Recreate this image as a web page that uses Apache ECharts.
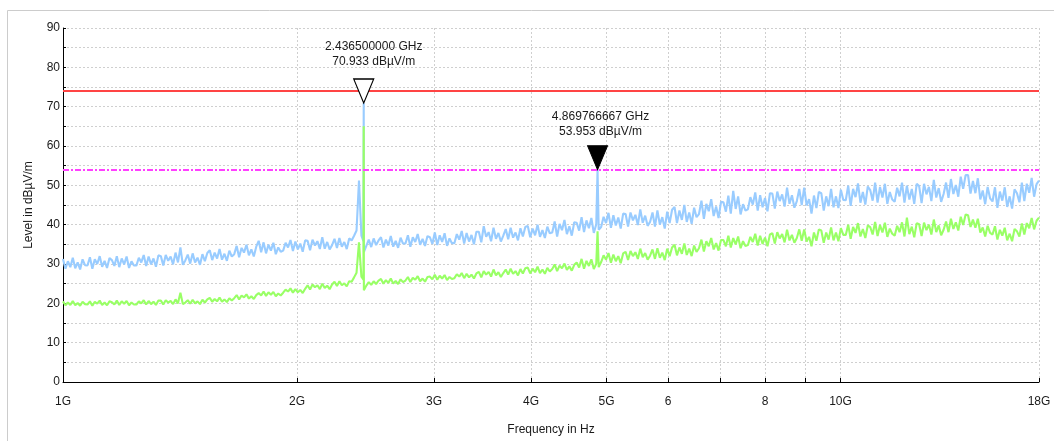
<!DOCTYPE html>
<html>
<head>
<meta charset="utf-8">
<title>Radiated emission scan 1–18 GHz</title>
<script src="https://cdn.jsdelivr.net/npm/echarts@6/dist/echarts.min.js"></script>
<style>
  html, body { margin: 0; padding: 0; background: #ffffff; }
  #chart { width: 1054px; height: 441px; }
</style>
</head>
<body>
<div id="chart"></div>
<script>
// Sweep: 400 log-spaced points from 1 GHz to 18 GHz
const sweepStartGHz = 1;
const sweepStopGHz = 18;

// Peak detector trace (dBµV/m), one value per sweep point
const peakLevel = [
  31.3, 28.8, 30.7, 29.2, 31.6, 28.9, 30.4, 28.6, 31.2, 29.7,
  29.6, 31.7, 28.8, 31.2, 30.0, 32.0, 29.3, 30.8, 29.0, 31.5,
  31.0, 29.5, 32.0, 29.2, 31.4, 29.9, 31.9, 29.0, 30.7, 29.6,
  29.6, 31.6, 30.4, 32.3, 29.5, 31.9, 29.9, 31.4, 29.3, 32.2,
  32.0, 29.6, 32.3, 30.8, 31.9, 29.9, 32.9, 30.4, 34.2, 29.8,
  30.9, 32.4, 30.1, 32.7, 30.4, 31.6, 29.8, 32.5, 30.7, 32.8,
  33.5, 31.0, 32.9, 31.4, 33.8, 31.1, 32.6, 30.8, 33.4, 31.9,
  32.5, 34.6, 31.7, 34.1, 32.9, 34.9, 32.2, 33.7, 31.9, 34.4,
  35.9, 33.0, 35.5, 32.7, 34.9, 33.4, 35.4, 32.5, 34.2, 33.1,
  33.4, 35.4, 34.2, 36.1, 33.3, 35.7, 33.7, 35.2, 33.1, 36.0,
  35.9, 33.5, 36.2, 34.7, 35.8, 33.8, 36.8, 33.9, 35.6, 33.7,
  34.8, 36.4, 34.1, 36.6, 34.4, 35.6, 33.8, 36.5, 36.0, 37.2,
  38.5, 51.2, 37.2, 33.0, 34.6, 36.2, 34.3, 36.5, 34.8, 36.0,
  36.8, 34.2, 36.2, 34.7, 37.1, 34.4, 35.9, 34.1, 36.7, 35.2,
  35.2, 37.3, 34.4, 36.8, 35.6, 37.6, 34.9, 36.4, 34.6, 37.1,
  36.8, 35.1, 38.0, 34.8, 37.3, 35.6, 37.8, 34.6, 36.5, 35.3,
  35.3, 37.6, 36.2, 38.4, 35.2, 37.9, 35.7, 37.4, 35.0, 38.2,
  38.2, 35.5, 39.6, 36.9, 38.1, 35.8, 39.2, 36.4, 37.9, 35.7,
  37.2, 38.9, 36.3, 39.2, 36.7, 38.0, 36.0, 39.1, 37.0, 39.4,
  39.7, 36.8, 39.0, 37.3, 40.0, 36.9, 38.6, 36.6, 39.5, 37.8,
  38.0, 40.8, 37.0, 40.2, 38.6, 41.2, 37.6, 39.6, 37.2, 40.6,
  40.5, 38.5, 41.9, 38.1, 41.1, 39.1, 41.7, 37.9, 40.1, 38.7,
  39.4, 42.0, 40.4, 43.0, 39.2, 42.4, 39.8, 41.8, 39.0, 42.8,
  42.7, 39.5, 43.1, 41.1, 42.5, 39.9, 43.9, 40.5, 42.3, 39.7,
  40.7, 43.1, 39.5, 43.6, 40.0, 41.9, 39.0, 43.3, 40.4, 43.8,
  44.5, 40.4, 43.6, 41.2, 45.0, 40.7, 43.1, 40.2, 44.3, 41.9,
  42.7, 46.1, 41.5, 45.3, 43.4, 46.5, 42.2, 44.6, 41.7, 45.8,
  45.7, 43.3, 47.4, 42.8, 48.6, 44.0, 47.2, 42.6, 45.2, 43.6,
  43.9, 47.0, 45.1, 48.2, 43.6, 47.5, 44.4, 46.8, 43.4, 48.0,
  47.9, 44.1, 48.4, 46.0, 47.7, 44.6, 49.4, 45.3, 47.5, 44.3,
  46.0, 49.1, 45.0, 49.4, 44.9, 46.5, 42.8, 47.4, 44.2, 48.3,
  48.0, 43.6, 47.2, 44.7, 49.1, 44.4, 47.2, 44.2, 48.9, 46.3,
  46.2, 49.9, 44.8, 49.1, 47.0, 50.5, 45.6, 48.3, 45.1, 49.7,
  48.8, 46.1, 50.7, 45.6, 49.6, 46.9, 50.4, 45.3, 48.3, 46.4,
  45.8, 49.4, 47.2, 50.7, 45.6, 49.9, 46.4, 49.1, 45.3, 50.4,
  49.8, 45.5, 50.4, 47.7, 49.6, 46.0, 51.4, 46.9, 49.3, 45.8,
  47.8, 50.7, 46.8, 51.6, 47.8, 50.1, 47.1, 52.2, 49.1, 52.6,
  52.6, 47.9, 51.1, 48.0, 51.8, 46.4, 48.7, 45.2, 49.6, 46.7,
  45.9, 49.5, 44.3, 48.4, 46.1, 49.5, 44.5, 47.2, 44.1, 49.0,
  48.0, 45.7, 50.7, 46.0, 50.4, 48.1, 51.9, 47.1, 50.3, 51.2
];

// Average detector trace (dBµV/m), one value per sweep point
const avgLevel = [
  20.5, 19.5, 20.2, 19.6, 20.6, 19.5, 20.1, 19.4, 20.4, 19.8,
  19.7, 20.5, 19.4, 20.4, 19.9, 20.7, 19.6, 20.2, 19.5, 20.5,
  20.3, 19.7, 20.7, 19.6, 20.5, 19.9, 20.6, 19.5, 20.2, 19.7,
  19.7, 20.5, 20.0, 20.8, 19.7, 20.6, 19.8, 20.4, 19.6, 20.7,
  20.7, 19.7, 20.8, 20.2, 20.6, 19.8, 21.0, 20.0, 22.7, 19.8,
  20.2, 20.8, 19.9, 20.9, 20.0, 20.5, 19.8, 20.9, 20.2, 21.0,
  21.4, 20.4, 21.1, 20.5, 21.5, 20.4, 21.0, 20.3, 21.3, 20.7,
  21.3, 22.1, 21.0, 22.0, 21.5, 22.3, 21.2, 21.8, 21.1, 22.1,
  22.6, 22.0, 23.0, 21.9, 22.8, 22.2, 22.9, 21.8, 22.5, 22.0,
  22.7, 23.5, 23.0, 23.8, 22.7, 23.6, 22.8, 23.4, 22.6, 23.7,
  24.6, 23.5, 24.8, 24.1, 24.6, 23.6, 25.0, 23.9, 24.5, 23.6,
  24.8, 25.5, 24.4, 25.6, 24.6, 25.1, 24.3, 25.6, 25.5, 26.6,
  27.8, 35.5, 26.8, 23.3, 24.5, 25.4, 24.7, 25.6, 24.9, 25.8,
  26.2, 25.0, 25.9, 25.2, 26.3, 25.0, 25.7, 24.9, 26.1, 25.4,
  25.8, 26.7, 25.4, 26.5, 26.0, 26.9, 25.6, 26.3, 25.5, 26.7,
  26.8, 26.1, 27.3, 26.0, 27.0, 26.3, 27.2, 25.9, 26.7, 26.2,
  26.4, 27.4, 26.8, 27.7, 26.4, 27.5, 26.6, 27.3, 26.3, 27.6,
  28.0, 26.6, 28.2, 27.3, 28.0, 26.8, 28.6, 27.1, 27.9, 26.7,
  27.7, 28.6, 27.3, 28.8, 27.5, 28.2, 27.1, 28.7, 27.6, 28.9,
  29.1, 27.6, 28.8, 27.9, 29.3, 27.7, 28.6, 27.5, 29.0, 28.1,
  28.7, 29.9, 28.2, 29.6, 28.9, 30.1, 28.5, 29.4, 28.3, 29.8,
  30.4, 29.1, 31.3, 28.8, 30.8, 29.5, 31.2, 28.7, 30.1, 29.2,
  30.5, 32.2, 31.1, 32.8, 30.3, 32.4, 30.7, 32.0, 30.2, 32.7,
  33.1, 31.0, 33.3, 32.0, 33.0, 31.3, 33.9, 31.7, 32.8, 31.1,
  32.1, 33.7, 31.3, 34.0, 31.6, 32.9, 31.0, 33.9, 32.0, 34.2,
  34.9, 32.2, 34.2, 32.6, 35.2, 32.3, 33.9, 32.0, 34.7, 33.1,
  34.0, 36.2, 33.2, 35.8, 34.5, 36.6, 33.7, 35.3, 33.4, 36.1,
  36.1, 34.5, 37.2, 34.2, 36.6, 35.0, 37.0, 34.0, 35.8, 34.6,
  34.8, 36.9, 35.6, 37.7, 34.7, 37.2, 35.1, 36.7, 34.5, 37.5,
  37.8, 35.2, 38.1, 36.5, 37.6, 35.5, 38.7, 36.0, 37.4, 35.4,
  36.6, 38.8, 35.9, 38.8, 35.7, 36.9, 34.5, 38.0, 35.9, 38.8,
  38.5, 35.4, 38.0, 36.2, 39.3, 36.0, 38.0, 35.8, 39.1, 37.4,
  37.4, 40.0, 36.4, 39.4, 37.9, 40.4, 37.0, 38.9, 36.6, 39.8,
  39.4, 37.5, 40.7, 37.1, 39.9, 38.0, 40.5, 36.9, 39.0, 37.7,
  37.2, 39.7, 38.1, 40.6, 37.0, 41.8, 37.6, 39.5, 36.8, 40.4,
  40.1, 37.1, 40.5, 38.6, 40.0, 37.5, 41.3, 38.1, 39.8, 37.3,
  38.7, 40.8, 38.1, 41.5, 38.9, 40.6, 38.5, 42.0, 39.9, 42.6,
  42.4, 39.4, 41.3, 39.2, 41.5, 38.0, 39.3, 37.0, 39.7, 37.9,
  37.5, 39.6, 36.2, 38.7, 37.2, 39.2, 36.0, 37.7, 35.8, 38.9,
  38.3, 37.0, 40.3, 37.5, 40.4, 39.1, 41.7, 38.8, 41.0, 41.8
];

// Measured markers
const markerFreqGHz = [2.4365, 4.869766667];
const markerLevel = [70.933, 53.953];
const markerFilled = [false, true];

// Narrow carrier points that fall between sweep points
const spikeFreqGHz = [2.4345, markerFreqGHz[0], markerFreqGHz[1]];
const spikePeak = [35.8, markerLevel[0], markerLevel[1]];
const spikeAvg = [26.0, 65.0, 38.3];

// Limit lines (dBµV/m)
const limitPeak = 74;
const limitAvg = 54;

// Frequency axis ticks (GHz) and their labels
const freqTicksGHz = [1, 2, 3, 4, 5, 6, 7, 8, 9, 10, 18];
const freqLabelGHz = [1, 2, 3, 4, 5, 6, 8, 10, 18];
const freqLabelText = ['1G', '2G', '3G', '4G', '5G', '6', '8', '10G', '18G'];

const FONT = 'Liberation Sans, Arial, sans-serif';
const lg = Math.log10;

function sweepFreq(i, n) {
  return sweepStartGHz * Math.pow(sweepStopGHz / sweepStartGHz, i / (n - 1));
}

function buildTrace(levels, spikes) {
  const pts = levels.map((v, i) => [lg(sweepFreq(i, levels.length)), v]);
  spikeFreqGHz.forEach((f, k) => pts.push([lg(f), spikes[k]]));
  pts.sort((a, b) => a[0] - b[0]);
  return pts;
}

const peakData = buildTrace(peakLevel, spikePeak);
const avgData = buildTrace(avgLevel, spikeAvg);

// marker readout placement: [dx, gap above the triangle]
const markerLabelPlace = [[10, 9], [3, 6]];

const chart = echarts.init(document.getElementById('chart'), null, { renderer: 'canvas' });

const gridLine = { show: true, lineStyle: { color: '#cfcfcf', type: [2, 2], width: 1 } };

chart.setOption({
  animation: false,
  backgroundColor: '#ffffff',
  textStyle: { fontFamily: FONT },
  graphic: [{
    type: 'rect',
    left: 5, top: 8,
    shape: { x: 0.5, y: 0.5, width: 1200, height: 600 },
    style: { fill: 'none', stroke: '#cccccc', lineWidth: 1 },
    silent: true
  }],
  grid: { left: 63, right: 15, top: 28, bottom: 58, containLabel: false },
  xAxis: {
    type: 'value',
    min: lg(sweepStartGHz),
    max: lg(sweepStopGHz),
    name: 'Frequency in Hz',
    nameLocation: 'middle',
    nameGap: 42,
    nameTextStyle: { color: '#1a1a1a', fontSize: 12, fontFamily: FONT },
    axisLine: { show: true, onZero: false, lineStyle: { color: '#000', width: 1 } },
    axisTick: { show: true, inside: true, length: 4, lineStyle: { color: '#000' },
      customValues: freqTicksGHz.map(lg) },
    axisLabel: {
      show: true, color: '#1a1a1a', fontSize: 12, fontFamily: FONT, margin: 14,
      showMinLabel: true, showMaxLabel: true,
      customValues: freqLabelGHz.map(lg),
      formatter: v => {
        const k = freqLabelGHz.findIndex(f => Math.abs(lg(f) - v) < 1e-6);
        return k >= 0 ? freqLabelText[k] : '';
      }
    },
    splitLine: gridLine
  },
  yAxis: {
    type: 'value',
    min: 0, max: 90, interval: 5,
    name: 'Level in dBµV/m',
    nameLocation: 'middle',
    nameGap: 28,
    nameTextStyle: { color: '#1a1a1a', fontSize: 12, fontFamily: FONT },
    axisLine: { show: true, lineStyle: { color: '#000', width: 1 } },
    axisTick: { show: true, inside: true, length: 3, lineStyle: { color: '#000' } },
    axisLabel: { color: '#1a1a1a', fontSize: 12, fontFamily: FONT, margin: 3,
      formatter: v => (v % 10 === 0 ? String(v) : '') },
    splitLine: gridLine
  },
  series: [
    {
      name: 'Peak',
      type: 'line',
      data: peakData,
      showSymbol: false,
      symbol: 'none',
      lineStyle: { color: '#99ccff', width: 2.1 },
      markLine: {
        silent: true,
        symbol: 'none',
        z: 4,
        label: { show: false },
        data: [
          { yAxis: limitPeak, lineStyle: { color: '#ff4444', width: 2, type: 'solid' } },
          { yAxis: limitAvg, lineStyle: { color: '#ff40ff', width: 2, type: [6, 2, 2, 2] } }
        ]
      }
    },
    {
      name: 'Average',
      type: 'line',
      data: avgData,
      showSymbol: false,
      symbol: 'none',
      lineStyle: { color: '#99ff66', width: 2.1 },
      markPoint: {
        z: 6,
        symbol: 'path://M0,0 L20,0 L10,24 Z',
        symbolSize: [20, 24],
        symbolOffset: [0, '-50%'],
        label: {
          show: true,
          position: 'top',
          color: '#1a1a1a',
          fontSize: 12,
          lineHeight: 15,
          fontFamily: FONT
        },
        data: markerFreqGHz.map((f, k) => ({
          coord: [lg(f), markerLevel[k]],
          label: {
            formatter: f.toFixed(9) + ' GHz\n' + markerLevel[k].toFixed(3) + ' dBµV/m',
            offset: [markerLabelPlace[k][0], 0],
            distance: markerLabelPlace[k][1]
          },
          itemStyle: markerFilled[k]
            ? { color: '#000000', borderColor: '#000000', borderWidth: 1 }
            : { color: '#ffffff', borderColor: '#000000', borderWidth: 1.2 }
        }))
      }
    }
  ]
});
</script>
</body>
</html>
